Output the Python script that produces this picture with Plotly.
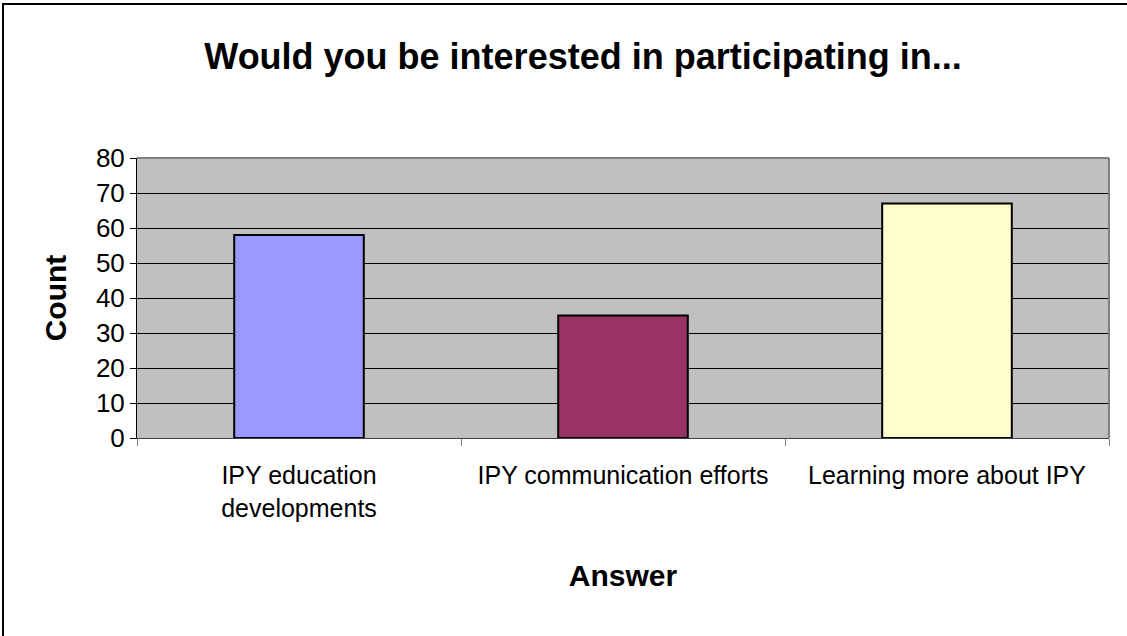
import plotly.graph_objects as go

# Survey answers and their counts
answers = ["IPY education<br>developments", "IPY communication efforts", "Learning more about IPY"]
counts = [58, 35, 67]
bar_colors = ["#9999FF", "#993366", "#FFFFCC"]
y_ticks = [0, 10, 20, 30, 40, 50, 60, 70, 80]

FONT = "Liberation Sans, Arial, sans-serif"

fig = go.Figure(
    go.Bar(
        x=answers,
        y=counts,
        width=0.4,
        marker=dict(color=bar_colors, line=dict(color="black", width=2)),
    )
)

W, H = 1127, 636
L, R, T, B = 137, 18, 158, 198
pw, ph = W - L - R, H - T - B

fig.update_layout(
    width=W,
    height=H,
    margin=dict(l=L, r=R, t=T, b=B),
    paper_bgcolor="white",
    plot_bgcolor="#C0C0C0",
    showlegend=False,
    font=dict(family=FONT, color="black"),
    title=dict(
        text="<b>Would you be interested in participating in...</b>",
        x=583 / W,
        xanchor="center",
        y=1 - 56 / H,
        yanchor="middle",
        yref="container",
        font=dict(size=36, family=FONT, color="black"),
    ),
    bargap=0.6,
)

fig.update_yaxes(
    range=[0, 80],
    tickvals=y_ticks,
    ticks="outside",
    ticklen=6,
    tickcolor="black",
    tickfont=dict(size=26, family=FONT),
    showgrid=True,
    gridcolor="black",
    gridwidth=1,
    showline=True,
    linecolor="black",
    linewidth=1,
    zeroline=False,
    title=dict(text="<b>Count</b>", font=dict(size=30, family=FONT), standoff=20),
)

fig.update_xaxes(
    tickson="boundaries",
    ticks="outside",
    ticklen=7,
    tickcolor="#808080",
    tickfont=dict(size=25, family=FONT),
    ticklabelstandoff=15,
    showline=True,
    linecolor="#404040",
    linewidth=1,
    showgrid=False,
    title=dict(text="<b>Answer</b>", font=dict(size=30, family=FONT), standoff=44),
)

# Gray frame along the top and right of the plotting area
fig.add_shape(type="line", xref="paper", yref="paper", x0=0, x1=1, y0=1, y1=1,
              line=dict(color="#808080", width=2))
fig.add_shape(type="line", xref="paper", yref="paper", x0=1, x1=1, y0=0, y1=1,
              line=dict(color="#808080", width=2))

# Black border around the whole chart
fig.add_shape(
    type="rect", xref="paper", yref="paper",
    x0=(3 - L) / pw, x1=(W + 5 - L) / pw,
    y0=(H - B - (H + 5)) / ph, y1=(H - B - 4) / ph,
    line=dict(color="black", width=2), layer="below",
)

fig.write_html("out.html")
